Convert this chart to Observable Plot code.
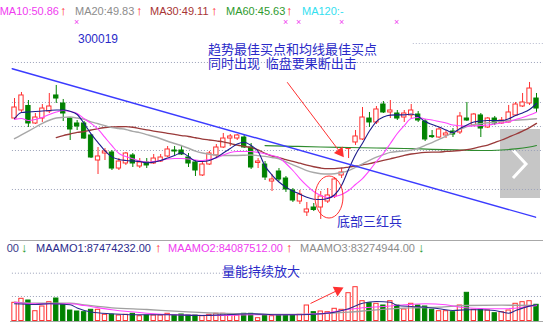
<!DOCTYPE html>
<html><head><meta charset="utf-8">
<script src="https://cdn.jsdelivr.net/npm/d3@7"></script>
<script src="https://cdn.jsdelivr.net/npm/@observablehq/plot@0.6"></script>
<style>
body{margin:0;background:#fff;}
#wrap{position:relative;width:554px;height:330px;overflow:hidden;background:#fff;font-family:"Liberation Sans",Arial,sans-serif;}
.t{position:absolute;white-space:nowrap;font-size:11px;line-height:11px;}
.arw{font-size:13px;font-weight:bold;line-height:13px;}
.cn{position:absolute;white-space:pre;font-family:"Noto Sans CJK SC",sans-serif;font-size:13px;line-height:14px;color:#2a2ac8;}
.abs{position:absolute;}
</style></head><body><div id="wrap"></div>
<script>
// ---------- data ----------
const open  = [49.87,51.13,51.84,49.09,49.87,50.97,53.49,52.23,49.87,49.09, 49.09,47.21,43.28,44.38,44.54,42.02,42.81,44.07,42.34,42.97, 42.81,43.12,43.91,44.85,44.85,43.75,42.97,40.93,42.65,44.07, 45.32,46.73,46.73,46.89,45.32,42.89,42.65,39.98,41.55,40.45, 38.57,36.84,35.12,35.90,35.90,36.84,37.63,40.93,45.08,46.11, 46.58,49.87,49.25,52.07,50.82,50.66,50.03,50.35,50.50,49.40, 47.05,46.89,47.21,47.83,47.68,49.87,48.77,50.35,48.46,49.87, 49.09,49.25,50.35,51.76,52.23,53.01];
const high  = [53.01,53.96,52.70,50.66,52.07,53.80,55.06,52.86,50.03,49.56, 49.40,47.36,45.32,45.16,44.85,43.59,44.54,44.38,43.59,43.59, 44.22,44.22,45.48,45.48,45.64,44.38,43.28,42.97,44.70,45.79, 47.52,47.36,47.36,47.21,45.95,43.59,43.12,41.08,42.02,40.77, 38.88,38.57,36.69,36.53,38.41,38.88,40.61,42.02,45.32,47.99, 51.60,50.82,51.76,52.54,52.70,51.13,51.13,52.07,50.97,49.72, 47.99,48.46,47.99,48.30,50.82,52.39,50.66,50.66,50.03,50.19, 50.03,51.92,52.39,53.80,55.53,53.80];
const low   = [49.56,50.82,48.46,48.93,49.25,50.66,52.23,49.40,46.42,47.99, 46.58,43.59,41.08,43.28,41.71,41.71,42.50,42.18,42.02,42.02, 42.65,42.97,43.75,44.07,44.07,42.18,40.77,40.77,42.50,43.75, 45.16,45.48,46.42,45.16,41.87,42.02,40.14,38.41,39.98,38.26, 36.69,36.37,34.49,35.27,34.02,36.53,37.31,40.45,43.59,45.64, 46.42,48.46,48.93,50.66,49.87,49.56,49.25,49.87,49.25,46.26, 46.73,46.73,46.73,46.89,47.36,49.40,48.62,46.89,48.30,48.77, 48.93,49.17,50.19,51.60,51.92,50.82];
const close = [51.60,53.49,49.09,50.03,51.44,51.76,53.01,50.66,48.15,48.62, 46.73,43.75,43.91,44.70,42.02,43.12,44.38,42.81,42.97,42.50, 43.59,43.75,45.01,44.69,44.22,42.81,41.71,42.65,44.38,45.32, 46.73,47.05,47.21,45.32,42.18,43.12,40.61,40.30,40.30,38.73, 37.00,37.94,35.59,35.51,37.63,37.79,40.30,41.40,45.24,47.05, 50.03,49.25,51.29,50.82,51.13,49.87,50.66,51.13,49.56,46.58, 46.95,48.15,47.52,47.36,50.19,49.56,50.50,48.30,49.87,49.09, 49.56,50.82,52.07,52.39,54.58,51.44];
// turnover, millions
const amount = [97.7,119.2,110.1,52.6,77.9,101.0,120.8,88.6,56.4,51.0, 47.3,60.1,60.1,33.3,33.3,29.5,33.3,38.7,25.8,29.5, 29.5,29.5,38.7,29.5,34.9,29.5,29.5,25.8,33.3,38.7, 38.7,33.3,29.5,38.7,38.7,15.0,29.5,25.8,29.5,29.5, 29.5,33.3,83.2,47.3,51.0,47.3,65.5,60.1,149.3,181.5, 106.3,95.6,92.4,83.2,106.3,83.2,61.8,92.4,83.2,77.9, 60.1,52.6,52.6,47.3,83.2,151.4,60.1,60.1,56.4,41.9, 47.3,56.4,92.4,101.0,106.3,87.0];
const ma5  = [49.87,50.82,50.90,50.97,51.05,51.13,51.21,51.21,51.00,50.50, 49.09,47.45,46.10,44.80,43.85,43.45,43.28,43.20,43.12,42.92, 43.02,43.28,43.67,44.06,44.49,43.91,43.20,43.12,43.28,43.75, 44.46,45.16,45.87,46.15,45.63,44.69,42.40,41.00,39.90,39.10, 38.50,38.00,37.50,37.20,37.15,37.30,37.90,39.40,41.90,44.20, 46.00,47.90,49.40,50.10,50.40,50.45,50.45,50.58,50.19,49.40, 48.93,48.54,48.07,47.68,48.30,48.85,49.32,49.48,49.56,49.56, 49.56,49.83,50.34,50.74,51.29,52.23];
const ma10 = [49.72,49.87,49.56,49.72,50.03,50.50,50.89,51.13,50.97,50.66, 49.85,49.10,48.20,46.90,45.60,44.40,43.90,43.55,43.20,43.04, 43.12,43.28,43.52,43.59,43.59,43.52,43.36,43.28,43.44,43.67, 44.14,44.54,44.69,44.69,44.69,44.54,44.33,44.06,43.75,42.81, 41.71,40.45,39.35,38.41,37.78,37.47,37.63,37.94,38.57,39.51, 40.45,41.71,43.12,44.38,45.95,47.52,48.77,49.87,50.03,49.80, 49.64,49.40,49.17,48.85,48.73,48.67,48.70,48.77,48.85,49.01, 49.17,49.32,49.72,50.03,50.42,50.86];
const ma20 = [46.70,47.30,47.90,48.50,49.10,49.60,49.95,50.05,50.10,49.95, 49.75,49.35,49.05,48.75,48.45,48.30,48.15,47.85,47.65,47.35, 47.05,46.70,46.30,45.95,45.60,45.20,44.75,44.45,44.25,44.10, 44.07,44.07,44.07,44.10,44.15,44.05,43.92,43.75,43.55,43.05, 42.60,42.15,41.70,41.40,41.20,41.15,41.20,41.40,41.70,42.20, 42.75,43.30,43.80,44.20,44.55,44.70,44.75,44.90,45.20,45.65, 46.10,46.60,47.10,47.65,48.15,48.60,48.90,49.05,49.20,49.30, 49.45,49.55,49.60,49.67,49.75,49.83];
const ma30Start = 6;
const ma30 = [46.89,47.20,47.44,47.68,47.83,48.07,48.30,48.46,48.54,48.58, 48.60,48.50,48.30,48.10,47.90,47.72,47.55,47.38,47.20,47.05, 46.85,46.65,46.50,46.35,46.20,45.95,45.70,45.50,45.30,44.95, 44.40,43.95,43.75,43.40,43.15,42.85,42.55,42.30,42.10,42.00, 42.00,42.10,42.25,42.40,42.60,42.80,43.05,43.30,43.55,43.80, 44.10,44.30,44.45,44.55,44.60,44.60,44.70,44.75,44.85,45.00, 45.20,45.45,45.70,46.10,46.50,46.95,47.40,47.90,48.45,49.11];
const ma60 = [[36,45.63],[40,45.51],[44,45.40],[48,45.32],[52,45.24],[56,45.16],[60,45.04],[64,44.93],[67,44.85],[70,44.93],[72,45.09],[74,45.40],[75,45.63]];
const amo1 = [[0,92.4],[3,88.6],[5,92.4],[8,87.0],[9,70],[11,48],[14,38.7],[17,33.3],[22,33.3],[27,29.5],[31,34.9],[34,38.7],[38,33.3],[41,33.3],[44,38.7],[46,47.3],[48,65.5],[50,95.6],[52,104.7],[54,101],[55,83.2],[57,77.9],[59,74.1],[61,65.5],[63,56.4],[65,60.1],[67,60.1],[69,56.4],[71,41.9],[72,56.4],[74,80],[75,87.47]];
const amo2 = [[0,101],[3,92.4],[8,92.4],[10,83.2],[14,60.1],[19,41.9],[23,33.3],[29,29.5],[34,33.3],[38,33.3],[44,38.7],[47,56.4],[50,70.9],[53,77.9],[56,87.0],[59,92.4],[62,87.0],[64,74.1],[66,68.7],[70,65.5],[73,74.1],[74,80],[75,84.09]];
const amo3 = [[0,101],[3,95.6],[8,95.6],[10,87.0],[14,70.9],[19,61.8],[23,52.6],[29,41.9],[34,38.7],[38,34.9],[44,38.7],[48,47.3],[52,60.1],[57,70.9],[61,74.1],[65,83.2],[70,85],[75,83.27]];
const priceGrid = [38.73, 44.85, 48.62, 52.39, 58.67];
const priceGridTop = 61.65;
const volGrid = [131.6, 256.7];
const trendLine = [[-0.33, 57.68], [74.86, 34.38]];
const priceArrow = {from: [39.18, 55.57], head: [46.78, 44.58], angle: 143};
const volArrow = {from: [42.53, 94.0], head: [46.47, 165.4], angle: 64};
const ellipse = {i: 45.26, p: 37.47, ri: 2.01, rp: 3.30};
const topLegend = [
  {text: "MA10:50.86", color: "#f03cf0", x: 59, anchor: "end"},
  {text: "↑", color: "#ff2020", x: 60, arrow: true},
  {text: "MA20:49.83", color: "#8c8c8c", x: 75},
  {text: "↑", color: "#ff2020", x: 136, arrow: true},
  {text: "MA30:49.11", color: "#a83434", x: 150},
  {text: "↑", color: "#ff2020", x: 211, arrow: true},
  {text: "MA60:45.63", color: "#2e9a2e", x: 226},
  {text: "↑", color: "#ff2020", x: 286, arrow: true},
  {text: "MA120:-", color: "#33e0f0", x: 302}
];
const volLegend = [
  {text: "00", color: "#3a3a8a", x: 19, anchor: "end"},
  {text: "↓", color: "#1f9a1f", x: 21, arrow: true},
  {text: "MAAMO1:87474232.00", color: "#2b2b8c", x: 36},
  {text: "↑", color: "#ff2020", x: 155, arrow: true},
  {text: "MAAMO2:84087512.00", color: "#f03cf0", x: 168},
  {text: "↑", color: "#ff2020", x: 286, arrow: true},
  {text: "MAAMO3:83274944.00", color: "#8c8c8c", x: 300},
  {text: "↓", color: "#1f9a1f", x: 418, arrow: true}
];
const crossMarks = [77, 286, 299, 342, 397];
const notes = [
  {text: "300019", x: 78, y: 33, size: 12, latin: true},
  {text: "趋势最佳买点和均线最佳买点\n同时出现  临盘要果断出击", x: 208, y: 42},
  {text: "底部三红兵", x: 337, y: 214},
  {text: "量能持续放大", x: 222, y: 264}
];

// ---------- colours ----------
const RED = "#ff2f2f", GREEN = "#008200";

const wrap = document.getElementById("wrap");
const xDomain = [-14 / 6.96, 540 / 6.96];

const candles = open.map((o, i) => ({i, o, h: high[i], l: low[i], c: close[i]}));
const ups = candles.filter(d => d.c >= d.o);
const downs = candles.filter(d => d.c < d.o);
const bodyLo = d => Math.min(d.o, d.c);
const bodyHi = d => Math.max(Math.max(d.o, d.c), Math.min(d.o, d.c) + 0.15);
const series = arr => arr.map((v, i) => ({i, v}));
const pairs = arr => arr.map(([i, v]) => ({i, v}));
const ma30Data = ma30.map((v, k) => ({i: k + ma30Start, v}));

const lineOpts = (color, w) => ({x: "i", y: "v", stroke: color, strokeWidth: w, curve: "monotone-x"});

const pricePlot = Plot.plot({
  width: 554, height: 240,
  marginTop: 0, marginBottom: 0, marginLeft: 0, marginRight: 0,
  style: {background: "transparent", overflow: "visible"},
  x: {type: "linear", domain: xDomain, axis: null},
  y: {type: "linear", domain: [30.72, 68.40], axis: null},
  marks: [
    Plot.ruleY(priceGrid, {y: d => d, x1: -0.3, x2: 76, stroke: "#9aa0b8", strokeDasharray: "1,2", strokeWidth: 1}),
    Plot.ruleY([priceGridTop], {y: d => d, x1: 57.3, x2: 76, stroke: "#b4b8cc", strokeDasharray: "1,2", strokeWidth: 1}),
    Plot.ruleX(ups, {x: "i", y1: "l", y2: "h", stroke: RED, strokeWidth: 1}),
    Plot.ruleX(downs, {x: "i", y1: "l", y2: "h", stroke: GREEN, strokeWidth: 1}),
    Plot.rect(ups, {x1: d => d.i - 0.31, x2: d => d.i + 0.31, y1: bodyLo, y2: bodyHi, fill: "white", stroke: RED, strokeWidth: 1}),
    Plot.rect(downs, {x1: d => d.i - 0.31, x2: d => d.i + 0.31, y1: bodyLo, y2: bodyHi, fill: GREEN, stroke: GREEN, strokeWidth: 1}),
    Plot.line(pairs(ma60), lineOpts("#2e8b2e", 1.2)),
    Plot.line(ma30Data, lineOpts("#9a3a3a", 1.3)),
    Plot.line(series(ma20), lineOpts("#a8a8a8", 1.4)),
    Plot.line(series(ma10), lineOpts("#ff44ff", 1.1)),
    Plot.line(series(ma5), lineOpts("#1c1c8c", 1.1)),
    Plot.line(trendLine, {x: d => d[0], y: d => d[1], stroke: "#3b3bff", strokeWidth: 1.4}),
    Plot.link([priceArrow], {x1: d => d.from[0], y1: d => d.from[1], x2: d => d.head[0], y2: d => d.head[1], stroke: "#ff3030", strokeWidth: 1}),
    Plot.dot([priceArrow], {x: d => d.head[0], y: d => d.head[1], symbol: "triangle", r: 4, fill: "#ff3030", stroke: "none", rotate: d => d.angle})
  ]
});

const volPlot = Plot.plot({
  width: 554, height: 90,
  marginTop: 0, marginBottom: 0, marginLeft: 0, marginRight: 0,
  style: {background: "transparent", overflow: "visible"},
  x: {type: "linear", domain: xDomain, axis: null},
  y: {type: "linear", domain: [0, 432.3], range: [80.5, 0], axis: null},
  marks: [
    Plot.ruleY(volGrid, {y: d => d, x1: -0.3, x2: 76, stroke: "#9aa0b8", strokeDasharray: "1,2", strokeWidth: 1}),
    Plot.rect(ups, {x1: d => d.i - 0.31, x2: d => d.i + 0.31, y1: 0, y2: d => amount[d.i], fill: "white", stroke: RED, strokeWidth: 1}),
    Plot.rect(downs, {x1: d => d.i - 0.31, x2: d => d.i + 0.31, y1: 0, y2: d => amount[d.i], fill: GREEN, stroke: GREEN, strokeWidth: 1}),
    Plot.line(pairs(amo3), lineOpts("#a0a0a0", 1.3)),
    Plot.line(pairs(amo2), lineOpts("#ff44ff", 1.1)),
    Plot.line(pairs(amo1), lineOpts("#2b2b8c", 1.1)),
    Plot.link([volArrow], {x1: d => d.from[0], y1: d => d.from[1], x2: d => d.head[0], y2: d => d.head[1], stroke: "#ff3030", strokeWidth: 1}),
    Plot.dot([volArrow], {x: d => d.head[0], y: d => d.head[1], symbol: "triangle", r: 4, fill: "#ff3030", stroke: "none", rotate: d => d.angle})
  ]
});

// ellipse around the three red soldiers, placed through the plot's scales
{
  const sx = pricePlot.scale("x"), sy = pricePlot.scale("y");
  const cx = sx.apply(ellipse.i), cy = sy.apply(ellipse.p);
  const rx = sx.apply(ellipse.i + ellipse.ri) - cx, ry = cy - sy.apply(ellipse.p + ellipse.rp);
  d3.select(pricePlot).append("ellipse")
    .attr("cx", cx).attr("cy", cy).attr("rx", rx).attr("ry", ry)
    .attr("fill", "none").attr("stroke", "#ff3030").attr("stroke-width", 1);
}

// navigation box (behind the chart)
const box = document.createElement("div");
box.className = "abs";
box.style.cssText = "left:500px;top:129px;width:40px;height:69px;background:#c6c6c6;";
box.innerHTML = '<svg width="40" height="69"><polyline points="13,21 26,35 13,49" fill="none" stroke="white" stroke-width="3"/></svg>';
wrap.appendChild(box);

pricePlot.style.position = "absolute"; pricePlot.style.left = "0px"; pricePlot.style.top = "0px";
volPlot.style.position = "absolute"; volPlot.style.left = "0px"; volPlot.style.top = "240px";
wrap.appendChild(pricePlot);
wrap.appendChild(volPlot);

// panel separator lines
for (const top of [240, 321]) {
  const ln = document.createElement("div");
  ln.className = "abs";
  ln.style.cssText = `left:10px;top:${top}px;width:533px;height:0;border-top:1px solid #a8a8a8;`;
  wrap.appendChild(ln);
}

function addLegend(items, baseline) {
  for (const it of items) {
    const el = document.createElement("div");
    el.className = it.arrow ? "t arw" : "t";
    el.textContent = it.text;
    el.style.color = it.color;
    el.style.top = (baseline - (it.arrow ? 11.2 : 9.3)) + "px";
    if (it.anchor === "end") el.style.right = (554 - it.x) + "px";
    else el.style.left = it.x + "px";
    wrap.appendChild(el);
  }
}
addLegend(topLegend, 15.5);
addLegend(volLegend, 252);

for (const x of crossMarks) {
  const el = document.createElement("div");
  el.className = "t";
  el.textContent = "×";
  el.style.cssText += `left:${x - 3}px;top:17px;font-size:9px;color:#f040f0;`;
  wrap.appendChild(el);
}

for (const n of notes) {
  const el = document.createElement("div");
  el.className = n.latin ? "t" : "cn";
  el.textContent = n.text;
  el.style.left = n.x + "px";
  el.style.top = n.y + "px";
  if (n.latin) { el.style.fontSize = n.size + "px"; el.style.color = "#2a2ac8"; el.style.lineHeight = n.size + "px"; }
  wrap.appendChild(el);
}
</script></body></html>
